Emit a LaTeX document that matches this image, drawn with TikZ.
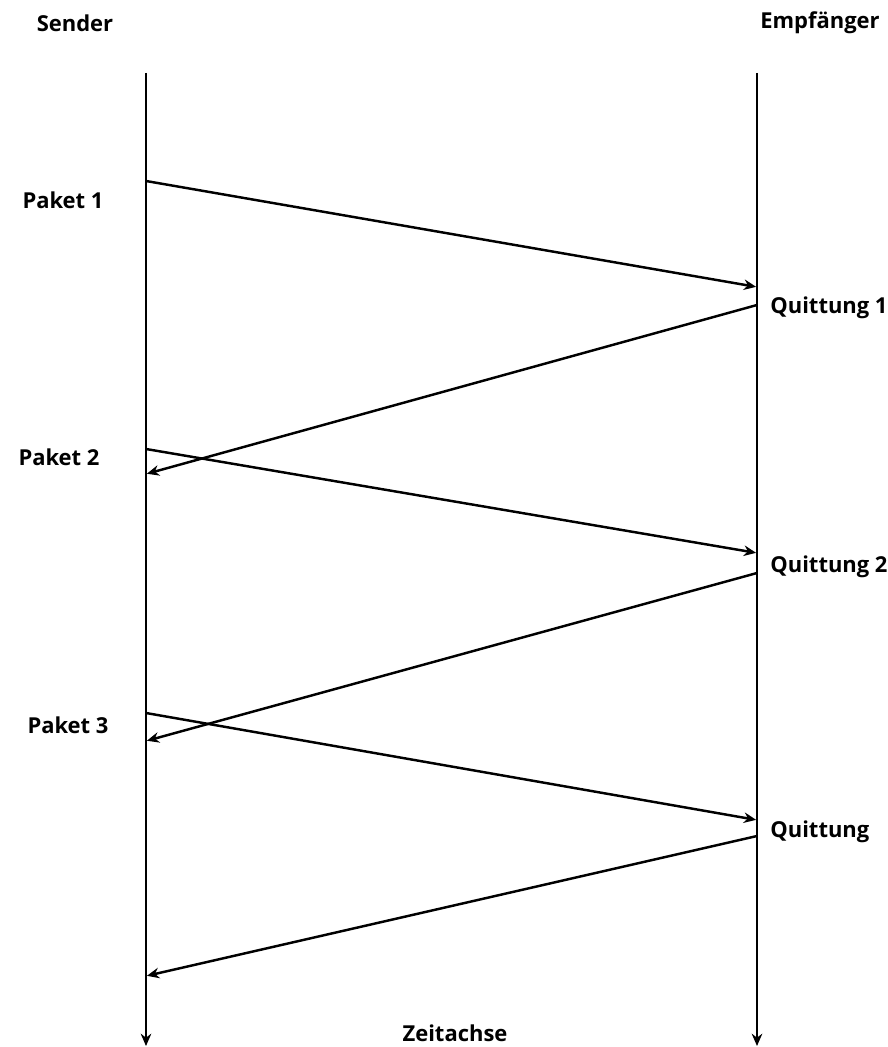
\documentclass[tikz,border=0pt]{standalone}
\usepackage{fontspec}
\setmainfont{Open Sans}
\usetikzlibrary{arrows.meta}
\tikzset{
    lifeline/.style={line width=1.4pt, -{Stealth[length=7pt, width=6pt]}},
    msg/.style={line width=1.4pt, -{Stealth[length=7pt, width=6pt]}, shorten >= 0.5pt},
    lbl/.style={font=\bfseries\fontsize{12.5}{15}\selectfont, inner sep=0pt},
    qlbl/.style={lbl, anchor=west}
}

\begin{document}
\begin{tikzpicture}[x=0.02cm, y=-0.02cm]
          \useasboundingbox (0,0) rectangle (887,1047);

          \node[lbl] (sender) at (75,23) {Sender};
          \node[lbl] (empfaenger) at (820,23) {Empfänger};

          \path
            (146,73) coordinate (s0)
            ++(0,108) coordinate (s-paket1)
            ++(0,268) coordinate (s-paket2)
            ++(0,25) coordinate (s-quittung1)
            ++(0,239) coordinate (s-paket3)
            ++(0,28) coordinate (s-quittung2)
            ++(0,235) coordinate (s-quittung3)
            ++(0,70) coordinate (s-end);

          \path
            (757,73) coordinate (e0)
            ++(0,214) coordinate (e-paket1)
            ++(0,18) coordinate (e-quittung1)
            ++(0,248) coordinate (e-paket2)
            ++(0,20) coordinate (e-quittung2)
            ++(0,247) coordinate (e-paket3)
            ++(0,16) coordinate (e-quittung3)
            ++(0,210) coordinate (e-end);

          \draw[lifeline] (s0) -- (s-end);
          \draw[lifeline] (e0) -- (e-end);

          \node[lbl] (paket1) at (63,200) {Paket 1};
          \node[lbl] (paket2) at (59,457) {Paket 2};
          \node[lbl] (paket3) at (68,725) {Paket 3};
          \node[qlbl] (quittung1) at (770,308) {Quittung 1};
          \node[qlbl] (quittung2) at (770,567) {Quittung 2};
          \node[qlbl] (quittung3) at (770,832) {Quittung};
          \node[lbl] (zeitachse) at (455,1033) {Zeitachse};

          \draw[msg] (s-paket1) -- (e-paket1);
          \draw[msg] (e-quittung1) -- (s-quittung1);
          \draw[msg] (s-paket2) -- (e-paket2);
          \draw[msg] (e-quittung2) -- (s-quittung2);
          \draw[msg] (s-paket3) -- (e-paket3);
          \draw[msg] (e-quittung3) -- (s-quittung3);
        \end{tikzpicture}
\end{document}
